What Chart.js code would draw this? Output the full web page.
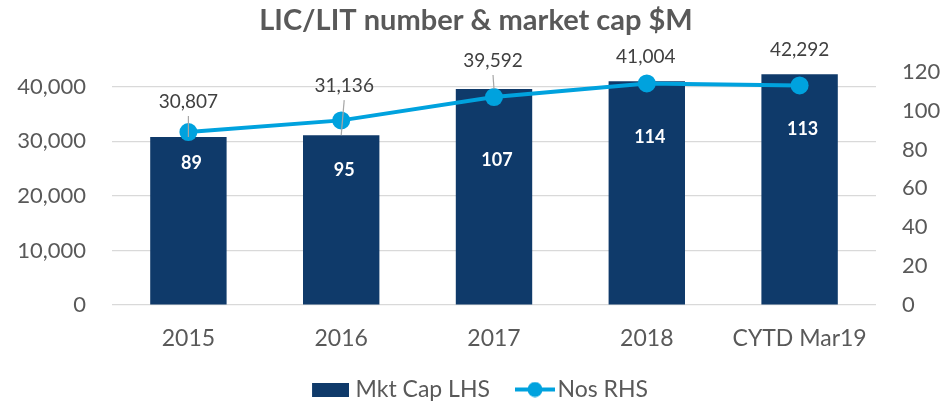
<!DOCTYPE html>
<html>
<head>
<meta charset="utf-8">
<script src="https://cdn.jsdelivr.net/npm/chart.js@4.4.0/dist/chart.umd.min.js"></script>
<style>
    html, body { margin: 0; padding: 0; background: #ffffff; }
    #wrap { width: 952px; height: 407px; }
</style>
</head>
<body>
<div id="wrap"><canvas id="licChart" width="952" height="407"></canvas></div>
<script>
// Chart data
const years = ['2015', '2016', '2017', '2018', 'CYTD Mar19'];
const mktCap = [30807, 31136, 39592, 41004, 42292];
const nosCount = [89, 95, 107, 114, 113];
const capTicks = [0, 10000, 20000, 30000, 40000];
const nosTicks = [0, 20, 40, 60, 80, 100, 120];

const NAVY = '#0f3a6a';
const CYAN = '#00a2de';
const AXIS_TEXT = '#595959';

// Legend swatches drawn on small canvases (transparent margin on the left
// so the swatch sits close to its text like in Excel)
const barSwatch = () => {
    const c = document.createElement('canvas');
    c.width = 50; c.height = 14;
    const g = c.getContext('2d');
    g.fillStyle = NAVY;
    g.fillRect(13, 0, 37, 14);
    return c;
};
const lineSwatch = () => {
    const c = document.createElement('canvas');
    c.width = 58; c.height = 16;
    const g = c.getContext('2d');
    g.strokeStyle = CYAN;
    g.lineWidth = 4;
    g.beginPath();
    g.moveTo(18, 8); g.lineTo(58, 8);
    g.stroke();
    g.fillStyle = CYAN;
    g.beginPath();
    g.arc(38, 8, 7.5, 0, Math.PI * 2);
    g.fill();
    return c;
};

// Data labels (Excel-style, manually nudged in the original)
const labelPlugin = {
    id: 'valueLabels',
    afterDatasetsDraw(chart, args, opts) {
        const ctx = chart.ctx;
        const barMeta = chart.getDatasetMeta(0);
        const lineMeta = chart.getDatasetMeta(1);
        ctx.save();
        ctx.textAlign = 'center';
        ctx.textBaseline = 'middle';

        // market cap labels above the bars
        ctx.font = '19px Lato';
        barMeta.data.forEach((bar, i) => {
            const lx = bar.x + opts.capShift[i];
            const ly = bar.y - opts.capLift[i];
            if (opts.capLeader[i]) {
                ctx.strokeStyle = '#a6a6a6';
                ctx.lineWidth = 1.2;
                ctx.beginPath();
                ctx.moveTo(lx, ly + 14);
                ctx.lineTo(bar.x, bar.y);
                ctx.stroke();
            }
            ctx.fillStyle = '#404040';
            ctx.fillText(mktCap[i].toLocaleString('en-US'), lx, ly);
        });

        // number of LICs below the points, in white
        ctx.font = 'bold 18px Lato';
        ctx.fillStyle = '#ffffff';
        lineMeta.data.forEach((pt, i) => {
            ctx.fillText(String(nosCount[i]), pt.x + 3, pt.y + opts.nosDrop[i]);
        });
        ctx.restore();
    }
};

Chart.defaults.font.family = 'Lato';
Chart.defaults.color = AXIS_TEXT;

const ctx = document.getElementById('licChart').getContext('2d');
const licChart = new Chart(ctx, {
    type: 'bar',
    data: {
        labels: years,
        datasets: [
            {
                type: 'bar',
                label: 'Mkt Cap LHS',
                data: mktCap,
                backgroundColor: NAVY,
                yAxisID: 'yCap',
                barPercentage: 0.5,
                categoryPercentage: 1.0,
                order: 2,
            },
            {
                type: 'line',
                label: 'Nos RHS',
                data: nosCount,
                borderColor: CYAN,
                backgroundColor: CYAN,
                borderWidth: 4,
                pointRadius: 9,
                pointHoverRadius: 9,
                pointBorderWidth: 0,
                tension: 0,
                yAxisID: 'yNos',
                order: 1,
            },
        ],
    },
    options: {
        responsive: false,
        animation: false,
        layout: {
            padding: 0,
        },
        scales: {
            x: {
                grid: { display: false, drawTicks: false },
                border: { display: false },
                ticks: { font: { size: 23 }, color: AXIS_TEXT, padding: 20 },
                afterFit: (scale) => { scale.height = 57; },
            },
            yCap: {
                position: 'left',
                min: 0,
                max: 42750,
                afterBuildTicks: (scale) => {
                    scale.ticks = capTicks.map(v => ({ value: v }));
                },
                afterFit: (scale) => { scale.width = 112; },
                grid: { color: '#d9d9d9', lineWidth: 1.2, drawTicks: false },
                border: { display: false },
                ticks: {
                    font: { size: 22 },
                    color: AXIS_TEXT,
                    padding: 26,
                    callback: (v) => Number(v).toLocaleString('en-US'),
                },
            },
            yNos: {
                position: 'right',
                min: 0,
                max: 120,
                afterBuildTicks: (scale) => {
                    scale.ticks = nosTicks.map(v => ({ value: v }));
                },
                afterFit: (scale) => { scale.width = 76; },
                grid: { display: false, drawTicks: false },
                border: { display: false },
                ticks: { font: { size: 22 }, color: AXIS_TEXT, padding: 26 },
            },
        },
        plugins: {
            title: {
                display: true,
                text: 'LIC/LIT number & market cap $M',
                color: AXIS_TEXT,
                font: { size: 29, weight: 'bold' },
                padding: { top: 3, bottom: 34 },
            },
            legend: {
                position: 'bottom',
                maxHeight: 45,
                labels: {
                    usePointStyle: true,
                    pointStyleWidth: 40,
                    boxHeight: 16,
                    padding: 16,
                    color: AXIS_TEXT,
                    font: { size: 23 },
                    generateLabels: (chart) => chart.data.datasets.map((ds, i) => ({
                        text: ds.label,
                        pointStyle: i === 0 ? barSwatch() : lineSwatch(),
                        fillStyle: 'transparent',
                        strokeStyle: 'transparent',
                        lineWidth: 0,
                        fontColor: AXIS_TEXT,
                        datasetIndex: i,
                    })),
                },
            },
            tooltip: { enabled: false },
            valueLabels: {
                capLift: [35, 49, 28, 24, 24],
                capShift: [0, 3, -1, -1, 0],
                capLeader: [true, true, true, false, false],
                nosDrop: [31, 50, 63, 54, 44],
            },
        },
    },
    plugins: [labelPlugin],
});
</script>
</body>
</html>
